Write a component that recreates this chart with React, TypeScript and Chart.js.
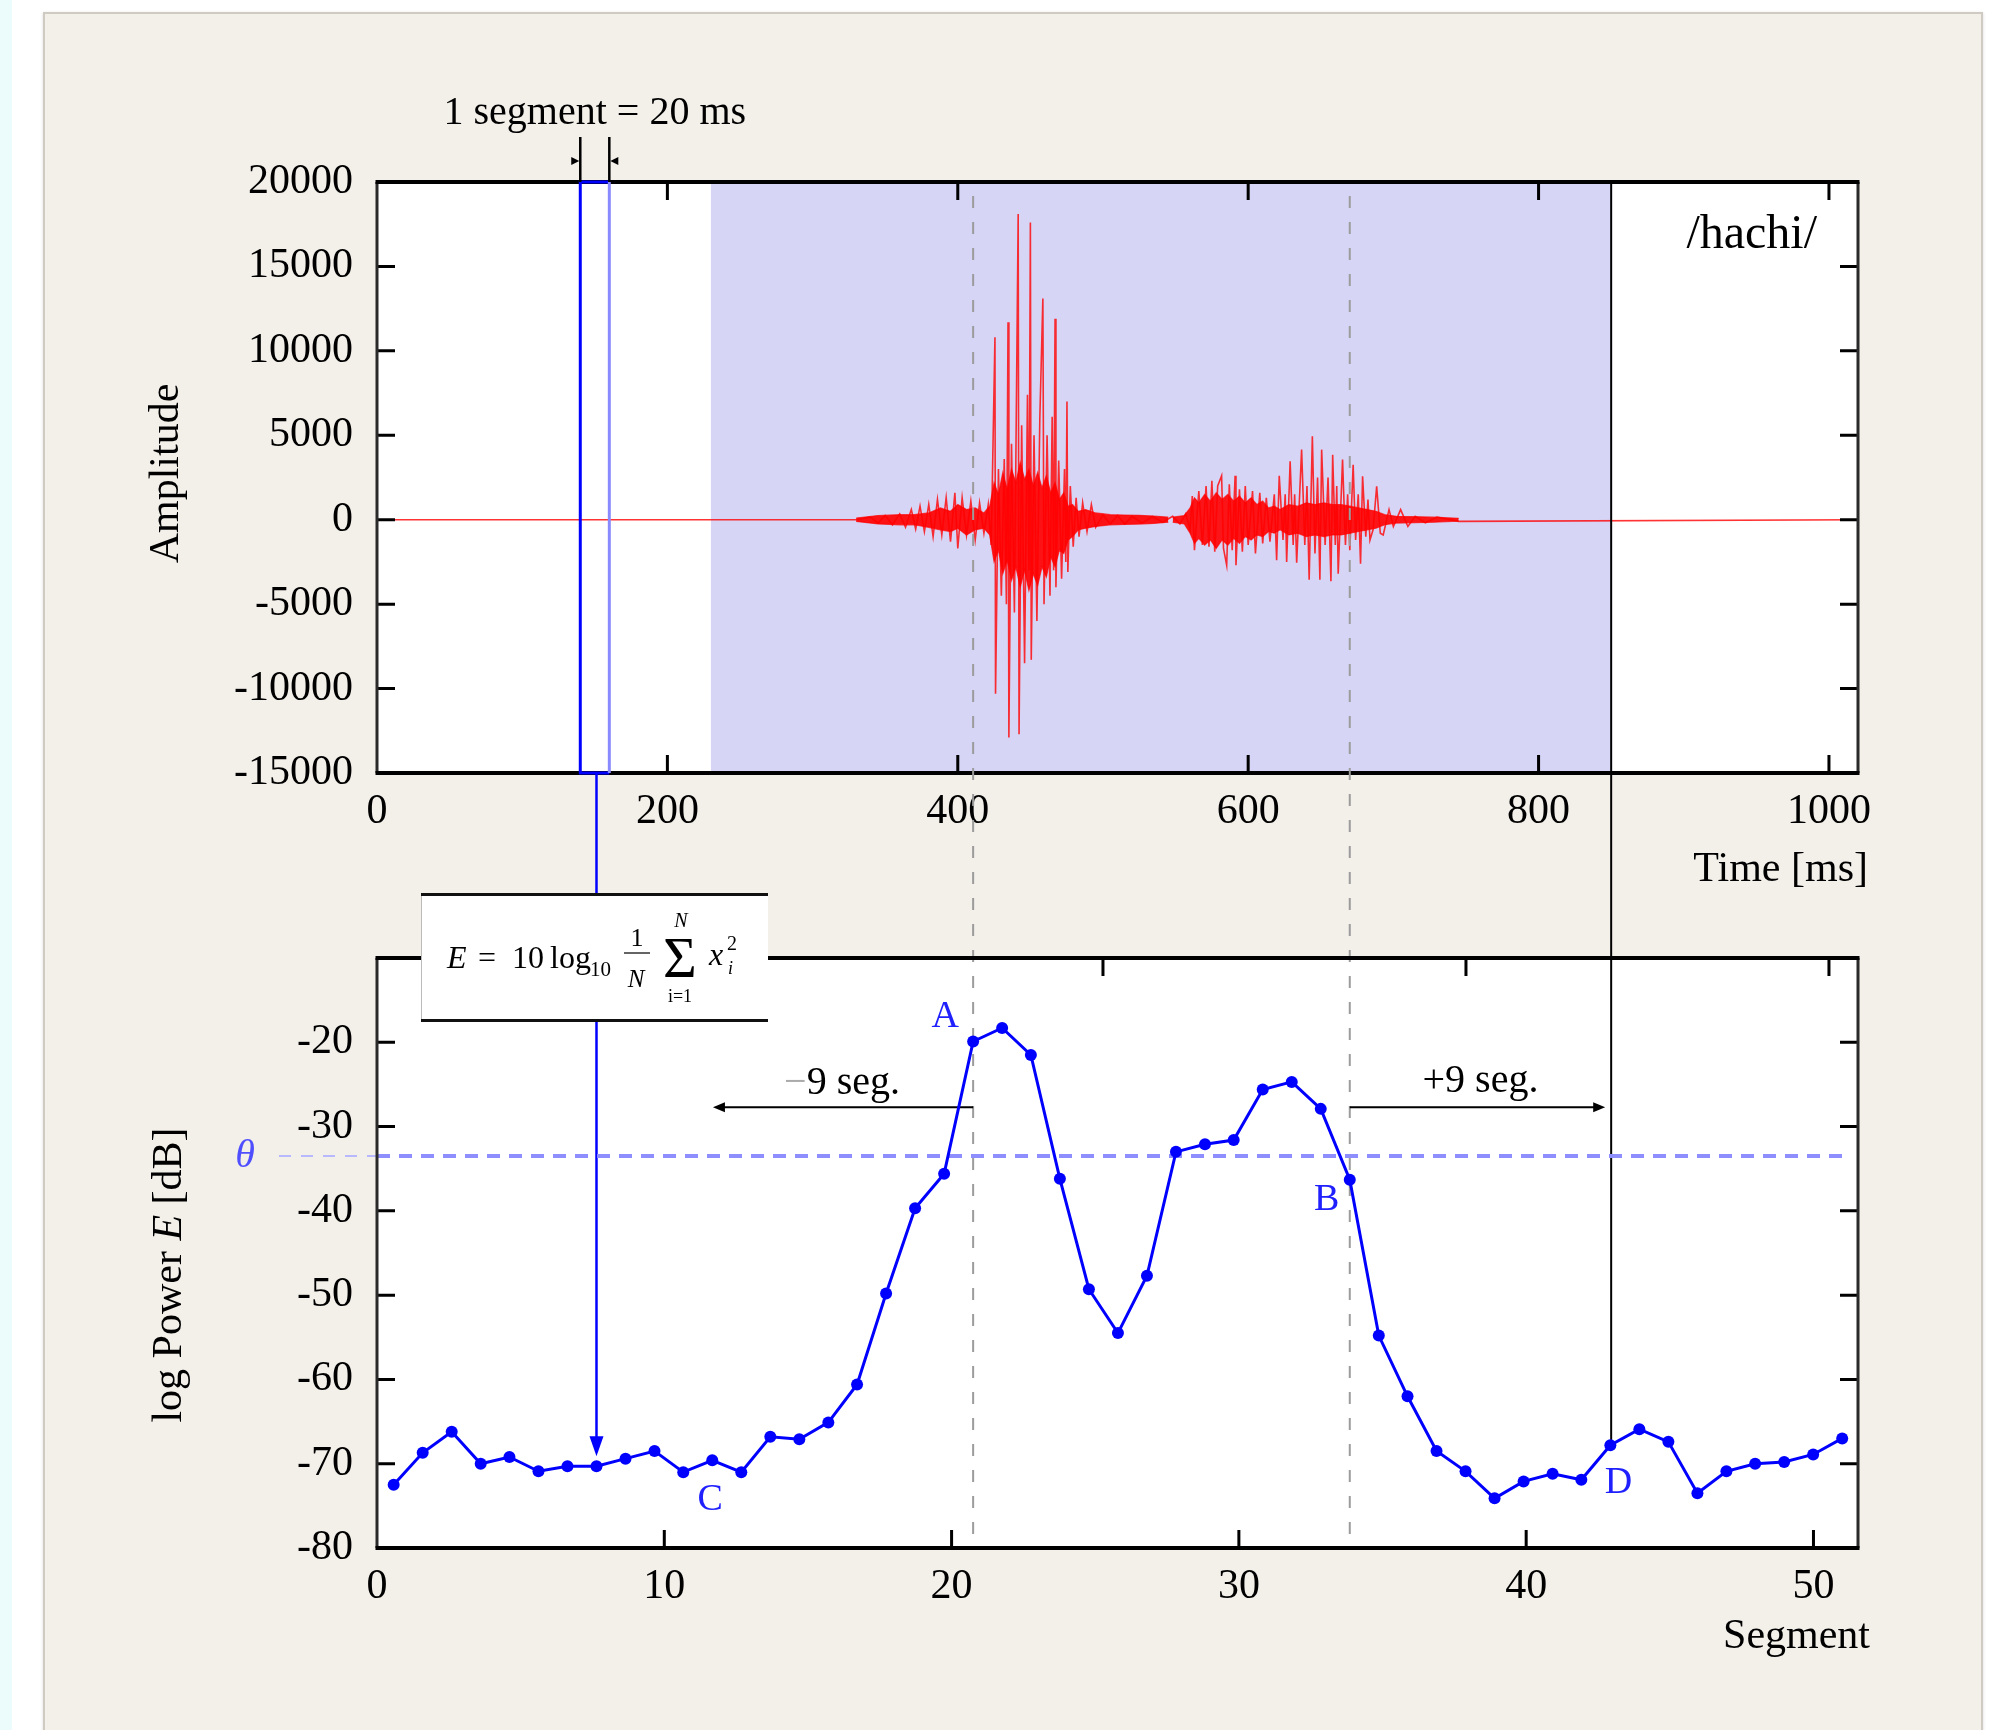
import React, { useEffect, useRef } from 'react';
import { Chart, registerables } from 'chart.js';

Chart.register(...registerables);

const W = 1999;
const H = 1730;
const SERIF = "'Liberation Serif', 'DejaVu Serif', 'Times New Roman', serif";

// ---------- top plot (waveform) ----------
const timeRangeMs = [0, 1020];
const amplitudeRange = [-15000, 20000];
const timeTicksMs = [0, 200, 400, 600, 800, 1000];
const amplitudeTicks = [-15000, -10000, -5000, 0, 5000, 10000, 15000, 20000];
const shadedRangeMs = [230, 850];
const segmentBoxMs = [140, 160];

const waveTimeMs = [
  0, 330, 340, 345, 350, 355, 360, 364, 368, 371, 374, 377, 380, 383, 386,
  389, 392, 395, 398, 400, 403, 406, 409, 412, 415, 418, 421, 423, 425.6, 426, 428, 430, 432, 433.5, 434.6,
  435.2, 437, 439, 441.6, 442.2, 444, 446, 448, 449, 450, 450.6, 452.5, 454.5, 456.5, 458.6, 459.4, 461.5, 463.5, 465, 466,
  467, 467.6, 469.5, 471.5, 473.5, 474.4, 475.2, 475.8, 477.5, 479.5, 481.5, 483.5, 486, 489, 492, 495, 500, 505, 510, 515,
  520, 527, 534, 541, 548, 553, 557, 560, 561.5, 563, 566, 568.5, 571, 573, 575, 577, 579, 581.7, 583, 585.2,
  587, 589, 591, 591.6, 594, 596, 598, 600, 603, 605, 608, 610, 612.5, 615, 618, 619.6, 621.4, 624, 625.5, 626.5,
  628.9, 631, 632, 633.4, 636.8, 639, 640.5, 642, 644.2, 646, 647.8, 649.4, 650.6, 653, 655, 657, 658.2, 660, 661, 662,
  665, 667, 668.5, 670, 672.3, 674, 675.8, 677.4, 678.8, 681, 682.5, 683.9, 686, 688.5, 691, 693, 697, 700, 705, 710,
  715, 722, 730, 745, 1020,
];
const waveAmplitude = [
  0, 0, 150, -200, 250, -300, 350, -450, 600, -550, 800, -700, 900, -1000, 1200,
  -900, 1300, -1300, 1600, -1700, 1300, -900, 1100, -1200, 1000, -800, 900, -1500, 10800, -10300, 3000, -4500, 3600, -5000, 11700,
  -12900, 4500, -5500, 18100, -12700, 5600, -8500, 7400, -3000, 17600, -8300, 5000, -6000, 6000, 13100, -5000, 5000, -4500, 6100, -3000,
  11900, -4000, 3500, -3500, 3000, -2500, 7000, -3100, 2000, -1600, 1300, -1000, 1000, -700, 900, -450, 300, -250, 250, -250,
  200, -200, 200, -150, 200, -250, 350, -600, 1400, -1800, 1700, -1500, 2000, -1600, 2300, -1900, 2000, 2600, -1700, -2700,
  2100, -1800, 2600, -2700, 1800, -1900, 2000, -1500, 1700, -2000, 1600, -1400, 1300, -1300, 1500, -2400, 2600, -1200, 1500, -2500,
  3460, -1500, 1500, -2550, 4150, -1500, 2000, -3550, 4940, -2000, 2500, -3550, 4150, -1500, 2500, -3650, 3850, -1500, 2000, -3200,
  3560, -1500, 1500, -1800, 3250, -1200, 1500, -2600, 2570, -1000, 1200, -1200, -600, 1975, -800, -900, 600, -400, 600, -400,
  200, -180, 150, -100, 0,
];

const burst1TimeMs = [330, 345, 360, 370, 380, 388, 395, 400, 406, 412, 418, 422, 425, 428, 431, 434, 437, 440, 443, 446, 449, 452, 455, 458, 461, 464, 467, 470, 473, 476, 479, 483, 488, 495, 505, 515, 525, 535, 545];
const burst1Upper = [100, 250, 300, 300, 400, 700, 500, 900, 600, 700, 400, 800, 2200, 1500, 2800, 1800, 3000, 2200, 3400, 2400, 3000, 2000, 2800, 1900, 2600, 1600, 2200, 1200, 1600, 800, 900, 500, 600, 400, 300, 280, 260, 220, 150];
const burst1Lower = [-100, -250, -300, -300, -450, -600, -700, -500, -900, -600, -500, -900, -2500, -1800, -3200, -2400, -3600, -2800, -4000, -3000, -4200, -3200, -3900, -2800, -3400, -2200, -2800, -1800, -2000, -1200, -1000, -600, -500, -400, -300, -280, -260, -220, -150];

const burst2TimeMs = [548, 556, 560, 563, 566, 570, 574, 578, 582, 586, 590, 594, 598, 602, 606, 610, 614, 618, 622, 628, 634, 640, 646, 652, 658, 664, 670, 676, 682, 688, 694, 702, 715, 728, 745];
const burst2Upper = [150, 250, 700, 1300, 1000, 1500, 1100, 1600, 1200, 1500, 1100, 1400, 1000, 1300, 900, 1100, 700, 800, 600, 900, 800, 1000, 900, 1000, 900, 900, 800, 700, 600, 500, 300, 200, 180, 150, 80];
const burst2Lower = [-150, -250, -800, -1400, -1100, -1500, -1200, -1700, -1200, -1500, -1100, -1400, -1000, -1200, -900, -1000, -700, -800, -600, -900, -800, -1000, -900, -1000, -900, -900, -800, -700, -600, -500, -300, -200, -180, -150, -80];

// ---------- bottom plot (log power per segment) ----------
const segmentRange = [0, 51.55];
const powerRange = [-80, -10];
const segmentTicks = [0, 10, 20, 30, 40, 50];
const powerTicks = [-80, -70, -60, -50, -40, -30, -20];
const powerTopTicksMs = [250, 500, 750, 1000];

const segmentX = [
  0.58, 1.59, 2.6, 3.61, 4.61, 5.62, 6.63, 7.64, 8.65, 9.66,
  10.66, 11.67, 12.68, 13.69, 14.7, 15.71, 16.71, 17.72, 18.73, 19.74,
  20.75, 21.76, 22.76, 23.77, 24.78, 25.79, 26.8, 27.81, 28.82, 29.82,
  30.83, 31.84, 32.85, 33.86, 34.87, 35.87, 36.88, 37.89, 38.9, 39.91,
  40.92, 41.92, 42.93, 43.94, 44.95, 45.96, 46.97, 47.97, 48.98, 49.99, 51.0,
];
const logPower = [
  -72.5, -68.7, -66.2, -70.0, -69.2, -70.9, -70.3, -70.3, -69.4, -68.5,
  -71.0, -69.6, -71.0, -66.8, -67.1, -65.1, -60.6, -49.8, -39.7, -35.6,
  -19.9, -18.3, -21.5, -36.2, -49.3, -54.5, -47.7, -33.0, -32.1, -31.6,
  -25.6, -24.7, -27.9, -36.3, -54.8, -62.0, -68.5, -70.9, -74.1, -72.1,
  -71.2, -71.9, -67.8, -65.9, -67.4, -73.5, -70.9, -70.0, -69.8, -68.9, -67.0,
];
const thresholdDb = -33.5;
const thresholdSpan = [0, 51.2];
const arrowLevelDb = -27.7;
const idxA = 20;
const idxB = 33;
const idxD = 42;
const idxArrow = 7;
const pointLabels = [
  { text: 'A', index: 20, dx: -28, dy: -24 },
  { text: 'B', index: 33, dx: -23, dy: 20 },
  { text: 'C', index: 11, dx: -2, dy: 40 },
  { text: 'D', index: 42, dx: 8, dy: 38 },
];

const TICK = 18;

function arrowHead(ctx: CanvasRenderingContext2D, tipX: number, tipY: number, dx: number, dy: number, len: number, hw: number) {
  const bx = tipX - dx * len;
  const by = tipY - dy * len;
  ctx.beginPath();
  ctx.moveTo(tipX, tipY);
  ctx.lineTo(bx - dy * hw, by + dx * hw);
  ctx.lineTo(bx + dy * hw, by - dx * hw);
  ctx.closePath();
  ctx.fill();
}

function drawFrame(ctx: CanvasRenderingContext2D, a: any, topTicks: number[], bottomTicks: number[], sideTicks: number[]) {
  ctx.save();
  ctx.strokeStyle = '#000';
  ctx.lineWidth = 3;
  ctx.beginPath();
  for (const px of topTicks) { ctx.moveTo(px, a.top); ctx.lineTo(px, a.top + TICK); }
  for (const px of bottomTicks) { ctx.moveTo(px, a.bottom); ctx.lineTo(px, a.bottom - TICK); }
  for (const py of sideTicks) {
    ctx.moveTo(a.left, py); ctx.lineTo(a.left + TICK, py);
    ctx.moveTo(a.right, py); ctx.lineTo(a.right - TICK, py);
  }
  ctx.stroke();
  ctx.strokeStyle = '#2a2a2a';
  ctx.lineWidth = 3;
  ctx.beginPath();
  ctx.moveTo(a.left, a.top); ctx.lineTo(a.left, a.bottom);
  ctx.moveTo(a.right, a.top); ctx.lineTo(a.right, a.bottom);
  ctx.stroke();
  ctx.strokeStyle = '#000';
  ctx.lineWidth = 4;
  ctx.beginPath();
  ctx.moveTo(a.left - 1.5, a.top); ctx.lineTo(a.right + 1.5, a.top);
  ctx.moveTo(a.left - 1.5, a.bottom); ctx.lineTo(a.right + 1.5, a.bottom);
  ctx.stroke();
  ctx.restore();
}

function whiteArea(chart: any) {
  const { ctx, chartArea: a } = chart;
  ctx.save();
  ctx.fillStyle = '#ffffff';
  ctx.fillRect(a.left, a.top, a.right - a.left, a.bottom - a.top);
  ctx.restore();
}

const tickFont = { family: SERIF, size: 42 };

function makeAxis(range: number[], values: number[], horizontal: boolean, padding: number) {
  return {
    type: 'linear',
    min: range[0],
    max: range[1],
    afterBuildTicks: (ax: any) => { ax.ticks = values.map((v) => ({ value: v })); },
    afterFit: (ax: any) => { if (horizontal) ax.height = 60; else ax.width = 377; },
    grid: { display: false, drawTicks: false },
    border: { display: false },
    ticks: {
      font: tickFont,
      color: '#000',
      padding,
      maxRotation: 0,
      minRotation: 0,
      autoSkip: false,
      callback: (v: number) => String(v),
    },
  };
}

const topDecor = {
  id: 'topDecor',
  beforeDraw(chart: any) { whiteArea(chart); },
  beforeDatasetsDraw(chart: any) {
    const { ctx, chartArea: a, scales: { x } } = chart;
    const x0 = x.getPixelForValue(shadedRangeMs[0]);
    const x1 = x.getPixelForValue(shadedRangeMs[1]);
    ctx.save();
    ctx.fillStyle = '#d6d5f5';
    ctx.fillRect(x0, a.top, x1 - x0, a.bottom - a.top);
    ctx.restore();
  },
  afterDraw(chart: any) {
    const { ctx, chartArea: a, scales: { x, y } } = chart;
    const tx = timeTicksMs.filter((v) => v > x.min && v < x.max).map((v) => x.getPixelForValue(v));
    const ty = amplitudeTicks.filter((v) => v > y.min && v < y.max).map((v) => y.getPixelForValue(v));
    drawFrame(ctx, a, tx, tx, ty);

    const s0 = x.getPixelForValue(segmentBoxMs[0]);
    const s1 = x.getPixelForValue(segmentBoxMs[1]);
    ctx.save();
    ctx.lineWidth = 3;
    ctx.strokeStyle = '#0000ff';
    ctx.beginPath();
    ctx.moveTo(s1, a.top); ctx.lineTo(s0, a.top); ctx.lineTo(s0, a.bottom); ctx.lineTo(s1, a.bottom);
    ctx.stroke();
    ctx.strokeStyle = '#8a8aff';
    ctx.beginPath(); ctx.moveTo(s1, a.top); ctx.lineTo(s1, a.bottom); ctx.stroke();

    // dimension marks "1 segment = 20 ms"
    ctx.strokeStyle = '#000';
    ctx.lineWidth = 2.5;
    ctx.beginPath();
    ctx.moveTo(s0, a.top - 45); ctx.lineTo(s0, a.top);
    ctx.moveTo(s1, a.top - 45); ctx.lineTo(s1, a.top);
    ctx.stroke();
    ctx.fillStyle = '#000';
    arrowHead(ctx, s0 - 1, a.top - 21, 1, 0, 8, 4);
    arrowHead(ctx, s1 + 1, a.top - 21, -1, 0, 8, 4);
    ctx.font = `40px ${SERIF}`;
    ctx.textAlign = 'center';
    ctx.textBaseline = 'alphabetic';
    ctx.fillText('1 segment = 20 ms', (s0 + s1) / 2, a.top - 58);

    // word label
    ctx.font = `48px ${SERIF}`;
    ctx.textAlign = 'right';
    ctx.fillText('/hachi/', a.right - 41, a.top + 66);

    // axis titles
    ctx.font = `42px ${SERIF}`;
    ctx.textAlign = 'right';
    ctx.textBaseline = 'middle';
    ctx.fillText('Time [ms]', a.right + 10, a.bottom + 97);
    ctx.save();
    ctx.translate(a.left - 210, (a.top + a.bottom) / 2 - 4);
    ctx.rotate(-Math.PI / 2);
    ctx.textAlign = 'center';
    ctx.fillText('Amplitude', 0, 0);
    ctx.restore();
    ctx.restore();
  },
};

function makeBottomDecor(topChart: any) {
  return {
    id: 'bottomDecor',
    beforeDraw(chart: any) { whiteArea(chart); },
    beforeDatasetsDraw(chart: any) {
      const { ctx, chartArea: a, scales: { x, y } } = chart;
      const tX = topChart.scales.x;
      const ta = topChart.chartArea;
      const pxA = x.getPixelForValue(segmentX[idxA]);
      const pxB = x.getPixelForValue(segmentX[idxB]);
      const x850 = tX.getPixelForValue(shadedRangeMs[1]);
      const x230 = tX.getPixelForValue(shadedRangeMs[0]);
      ctx.save();
      // gray dashed guide lines through both plots
      ctx.strokeStyle = '#9c9c9c';
      ctx.lineWidth = 2;
      ctx.setLineDash([12, 14]);
      ctx.beginPath();
      for (const px of [pxA, pxB]) { ctx.moveTo(px, ta.top + 14); ctx.lineTo(px, a.bottom); }
      ctx.stroke();
      ctx.setLineDash([]);

      // black line at end of shaded region down to D
      ctx.strokeStyle = '#000';
      ctx.lineWidth = 2;
      ctx.beginPath();
      ctx.moveTo(x850, ta.top);
      ctx.lineTo(x850, y.getPixelForValue(logPower[idxD]));
      ctx.stroke();

      // blue arrow from segment box to its power point
      const xArr = x.getPixelForValue(segmentX[idxArrow]);
      const yArr = y.getPixelForValue(logPower[idxArrow]);
      ctx.strokeStyle = '#0000ff';
      ctx.fillStyle = '#0000ff';
      ctx.lineWidth = 2.5;
      ctx.beginPath();
      ctx.moveTo(xArr, ta.bottom);
      ctx.lineTo(xArr, yArr - 24);
      ctx.stroke();
      arrowHead(ctx, xArr, yArr - 10, 0, 1, 20, 7);

      // threshold outside the axis
      const yT = y.getPixelForValue(thresholdDb);
      ctx.strokeStyle = '#b8b8ff';
      ctx.lineWidth = 2;
      ctx.setLineDash([12, 10]);
      ctx.beginPath();
      ctx.moveTo(a.left - 98, yT); ctx.lineTo(a.left, yT);
      ctx.stroke();
      ctx.setLineDash([]);

      // -9 / +9 segment arrows
      const yAr = y.getPixelForValue(arrowLevelDb);
      ctx.strokeStyle = '#000';
      ctx.fillStyle = '#000';
      ctx.lineWidth = 2;
      ctx.beginPath();
      ctx.moveTo(pxA, yAr); ctx.lineTo(x230 + 8, yAr);
      ctx.moveTo(pxB, yAr); ctx.lineTo(x850 - 12, yAr);
      ctx.stroke();
      arrowHead(ctx, x230 + 2, yAr, -1, 0, 12, 5);
      arrowHead(ctx, x850 - 6, yAr, 1, 0, 12, 5);

      ctx.font = `40px ${SERIF}`;
      ctx.textBaseline = 'middle';
      ctx.textAlign = 'left';
      const leftMid = (x230 + pxA) / 2;
      const wMinus = ctx.measureText('\u2212').width;
      const wRest = ctx.measureText('9 seg.').width;
      const startL = leftMid - (wMinus + wRest) / 2;
      ctx.fillStyle = '#aaaaaa';
      ctx.fillText('\u2212', startL, yAr - 24);
      ctx.fillStyle = '#000';
      ctx.fillText('9 seg.', startL + wMinus, yAr - 24);
      ctx.textAlign = 'center';
      ctx.fillText('+9 seg.', (pxB + x850) / 2, yAr - 26);
      ctx.restore();
    },
    afterDatasetsDraw(chart: any) {
      const { ctx, scales: { x, y } } = chart;
      ctx.save();
      ctx.font = `38px ${SERIF}`;
      ctx.fillStyle = '#2020ff';
      ctx.textAlign = 'center';
      ctx.textBaseline = 'middle';
      for (const l of pointLabels) {
        ctx.fillText(l.text, x.getPixelForValue(segmentX[l.index]) + l.dx, y.getPixelForValue(logPower[l.index]) + l.dy);
      }
      ctx.restore();
    },
    afterDraw(chart: any) {
      const { ctx, chartArea: a, scales: { x, y } } = chart;
      const tX = topChart.scales.x;
      const topT = powerTopTicksMs.map((v) => tX.getPixelForValue(v));
      const botT = segmentTicks.filter((v) => v > x.min && v < x.max).map((v) => x.getPixelForValue(v));
      const sideT = powerTicks.filter((v) => v > y.min && v < y.max).map((v) => y.getPixelForValue(v));
      drawFrame(ctx, a, topT, botT, sideT);

      ctx.save();
      // formula box
      const bx = a.left + 44;
      const by = a.top - 65;
      const bw = 347;
      const bh = 129;
      ctx.fillStyle = '#fff';
      ctx.fillRect(bx, by, bw, bh);
      ctx.strokeStyle = '#bbb';
      ctx.lineWidth = 1;
      ctx.beginPath(); ctx.moveTo(bx + 0.5, by); ctx.lineTo(bx + 0.5, by + bh); ctx.stroke();
      ctx.strokeStyle = '#111';
      ctx.lineWidth = 3;
      ctx.beginPath();
      ctx.moveTo(bx, by + 1.5); ctx.lineTo(bx + bw, by + 1.5);
      ctx.moveTo(bx, by + bh - 1.5); ctx.lineTo(bx + bw, by + bh - 1.5);
      ctx.stroke();

      ctx.fillStyle = '#000';
      ctx.textBaseline = 'alphabetic';
      ctx.textAlign = 'left';
      const base = by + 75;
      ctx.font = `italic 32px ${SERIF}`;
      ctx.fillText('E', bx + 26, base);
      ctx.font = `32px ${SERIF}`;
      ctx.fillText('=', bx + 57, base);
      ctx.fillText('10', bx + 91, base);
      ctx.fillText('log', bx + 129, base);
      ctx.font = `21px ${SERIF}`;
      ctx.fillText('10', bx + 169, base + 8);
      ctx.textAlign = 'center';
      ctx.font = `26px ${SERIF}`;
      ctx.fillText('1', bx + 216, by + 53);
      ctx.lineWidth = 1.3;
      ctx.beginPath(); ctx.moveTo(bx + 203, by + 60); ctx.lineTo(bx + 229, by + 60); ctx.stroke();
      ctx.font = `italic 25px ${SERIF}`;
      ctx.fillText('N', bx + 215, by + 94);
      ctx.font = `58px ${SERIF}`;
      ctx.fillText('\u03A3', bx + 259, by + 84);
      ctx.font = `italic 20px ${SERIF}`;
      ctx.fillText('N', bx + 260, by + 34);
      ctx.font = `18px ${SERIF}`;
      ctx.fillText('i=1', bx + 259, by + 109);
      ctx.textAlign = 'left';
      ctx.font = `italic 32px ${SERIF}`;
      ctx.fillText('x', bx + 288, base - 3);
      ctx.font = `20px ${SERIF}`;
      ctx.fillText('2', bx + 306, by + 57);
      ctx.font = `italic 18px ${SERIF}`;
      ctx.fillText('i', bx + 307, by + 81);

      // theta label
      const yT = y.getPixelForValue(thresholdDb);
      ctx.font = `italic 40px ${SERIF}`;
      ctx.fillStyle = '#4f4fff';
      ctx.textAlign = 'center';
      ctx.textBaseline = 'middle';
      ctx.fillText('\u03B8', a.left - 132, yT);

      // axis titles
      ctx.fillStyle = '#000';
      ctx.font = `42px ${SERIF}`;
      ctx.textAlign = 'right';
      ctx.fillText('Segment', a.right + 12, a.bottom + 89);

      ctx.save();
      ctx.translate(a.left - 207, (a.top + a.bottom) / 2 + 22);
      ctx.rotate(-Math.PI / 2);
      ctx.textAlign = 'left';
      const parts: [string, string][] = [
        ['log Power ', `42px ${SERIF}`],
        ['E', `italic 42px ${SERIF}`],
        [' [dB]', `42px ${SERIF}`],
      ];
      let total = 0;
      for (const [t, f] of parts) { ctx.font = f; total += ctx.measureText(t).width; }
      let cx = -total / 2;
      for (const [t, f] of parts) { ctx.font = f; ctx.fillText(t, cx, 0); cx += ctx.measureText(t).width; }
      ctx.restore();
      ctx.restore();
    },
  };
}

export default function App() {
  const topRef = useRef<HTMLCanvasElement>(null);
  const botRef = useRef<HTMLCanvasElement>(null);

  useEffect(() => {
    const topChart = new Chart(topRef.current as HTMLCanvasElement, {
      type: 'line',
      data: {
        datasets: [
          {
            data: waveTimeMs.map((t, i) => ({ x: t, y: waveAmplitude[i] })),
            borderColor: 'rgba(255,0,0,0.8)',
            borderWidth: 1.6,
            pointRadius: 0,
            fill: false,
          },
          {
            data: burst1TimeMs.map((t, i) => ({ x: t, y: burst1Upper[i] })),
            borderColor: 'rgba(255,0,0,0.7)',
            borderWidth: 1.2,
            pointRadius: 0,
            fill: '+1',
            backgroundColor: 'rgba(255,0,0,0.92)',
          },
          {
            data: burst1TimeMs.map((t, i) => ({ x: t, y: burst1Lower[i] })),
            borderColor: 'rgba(255,0,0,0.7)',
            borderWidth: 1.2,
            pointRadius: 0,
            fill: false,
          },
          {
            data: burst2TimeMs.map((t, i) => ({ x: t, y: burst2Upper[i] })),
            borderColor: 'rgba(255,0,0,0.7)',
            borderWidth: 1.2,
            pointRadius: 0,
            fill: '+1',
            backgroundColor: 'rgba(255,0,0,0.9)',
          },
          {
            data: burst2TimeMs.map((t, i) => ({ x: t, y: burst2Lower[i] })),
            borderColor: 'rgba(255,0,0,0.7)',
            borderWidth: 1.2,
            pointRadius: 0,
            fill: false,
          },
        ],
      },
      options: {
        animation: false,
        responsive: false,
        devicePixelRatio: 1,
        layout: { padding: { left: 0, top: 182, right: 141, bottom: 897 } },
        plugins: { legend: { display: false }, tooltip: { enabled: false } },
        elements: { line: { tension: 0 } },
        scales: {
          x: makeAxis(timeRangeMs, timeTicksMs, true, 14),
          y: makeAxis(amplitudeRange, amplitudeTicks, false, 24),
        },
      } as any,
      plugins: [topDecor],
    } as any);

    const botChart = new Chart(botRef.current as HTMLCanvasElement, {
      type: 'line',
      data: {
        datasets: [
          {
            data: segmentX.map((s, i) => ({ x: s, y: logPower[i] })),
            borderColor: '#0000ff',
            borderWidth: 3,
            pointRadius: 6,
            pointBackgroundColor: '#0000ff',
            pointBorderColor: '#0000ff',
            pointBorderWidth: 0,
            fill: false,
          },
          {
            data: thresholdSpan.map((s) => ({ x: s, y: thresholdDb })),
            borderColor: '#8e8eff',
            borderWidth: 4,
            borderDash: [13, 9],
            pointRadius: 0,
            fill: false,
          },
        ],
      },
      options: {
        animation: false,
        responsive: false,
        devicePixelRatio: 1,
        layout: { padding: { left: 0, top: 958, right: 141, bottom: 122 } },
        plugins: { legend: { display: false }, tooltip: { enabled: false } },
        elements: { line: { tension: 0 } },
        scales: {
          x: makeAxis(segmentRange, segmentTicks, true, 14),
          y: makeAxis(powerRange, powerTicks, false, 24),
        },
      } as any,
      plugins: [makeBottomDecor(topChart)],
    } as any);

    return () => {
      botChart.destroy();
      topChart.destroy();
    };
  }, []);

  return (
    <div style={{ position: 'absolute', left: 0, top: 0, width: W, height: H, overflow: 'hidden', background: '#ffffff' }}>
      <div style={{ position: 'absolute', left: 0, top: 0, width: 12, height: H, background: '#ecfcfc' }} />
      <div
        style={{
          position: 'absolute', left: 43, top: 12, width: 1940, height: H + 20,
          background: '#f3efe9', border: '2px solid #cfcac2', boxSizing: 'border-box',
          boxShadow: '0 1px 3px rgba(0,0,0,0.15)',
        }}
      />
      <canvas ref={topRef} width={W} height={H} style={{ position: 'absolute', left: 0, top: 0 }} />
      <canvas ref={botRef} width={W} height={H} style={{ position: 'absolute', left: 0, top: 0 }} />
    </div>
  );
}
